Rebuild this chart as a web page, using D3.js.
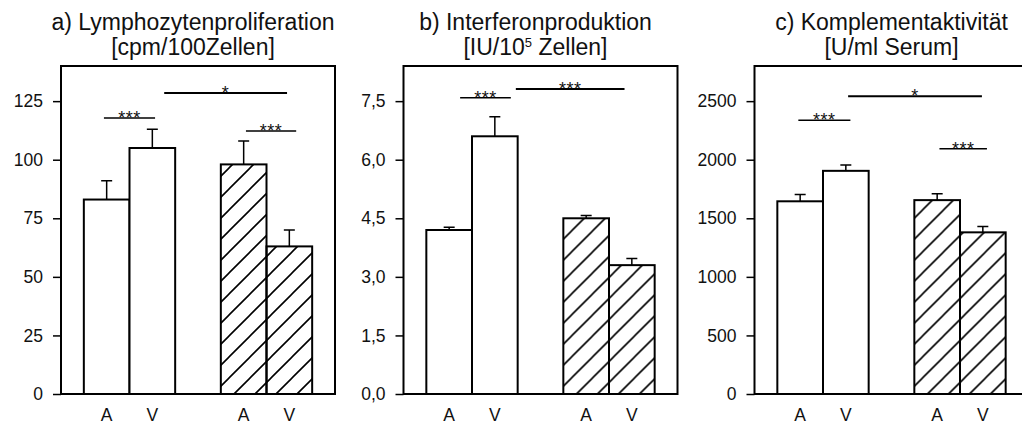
<!DOCTYPE html>
<html>
<head>
<meta charset="utf-8">
<script src="https://cdn.jsdelivr.net/npm/d3@7"></script>
<style>
  body { margin: 0; background: #fff; }
  svg { display: block; font-family: "Liberation Sans", Arial, sans-serif; }
  .axis text { font-size: 17.5px; fill: #111; }
  .axis path { display: none; }
  .axis line { stroke: #000; stroke-width: 1.5px; }
</style>
</head>
<body>
<div id="chart"></div>
<script>
// x categories (group A/V, left pair open bars, right pair hatched)
var barLabels = ["A", "V", "A", "V"];
var barPos = [1, 2, 4, 5];
var barHatched = [false, false, true, true];

// a) Lymphozytenproliferation
var lymphoMean = [83, 105, 98, 63];
var lymphoErr = [8, 8, 10, 7];
var lymphoTicks = [0, 25, 50, 75, 100, 125];
var lymphoSig = [
    { x1: 0.94, x2: 2.06, y: 117.8, label: "***", kind: "within" },
    { x1: 2.26, x2: 4.95, y: 128.5, label: "*", kind: "between" },
    { x1: 4.05, x2: 5.15, y: 112.3, label: "***", kind: "within" }
];

// b) Interferonproduktion
var ifnMean = [4.2, 6.6, 4.5, 3.3];
var ifnErr = [0.07, 0.5, 0.07, 0.17];
var ifnTicks = [0, 1.5, 3, 4.5, 6, 7.5];
var ifnSig = [
    { x1: 1.24, x2: 2.35, y: 7.59, label: "***", kind: "within" },
    { x1: 2.46, x2: 4.84, y: 7.81, label: "***", kind: "between" }
];

// c) Komplementaktivität
var complMean = [1645, 1905, 1655, 1380];
var complErr = [58, 50, 55, 50];
var complTicks = [0, 500, 1000, 1500, 2000, 2500];
var complSig = [
    { x1: 0.96, x2: 2.10, y: 2337, label: "***", kind: "within" },
    { x1: 2.05, x2: 4.98, y: 2542, label: "*", kind: "between" },
    { x1: 4.05, x2: 5.09, y: 2094, label: "***", kind: "within" }
];

var width = 1022, height = 426;
var frameW = 274, frameTop = 66, frameBottom = 394;

var commaFmt = d3.formatLocale({ decimal: ",", thousands: ".", grouping: [3], currency: ["", ""] });

var panels = [
    { left: 61, titleShift: -5, line1: "a) Lymphozytenproliferation", line2: ["[cpm/100Zellen]"],
      max: 140, mean: lymphoMean, err: lymphoErr, ticks: lymphoTicks, sig: lymphoSig, fmt: d3.format("d") },
    { left: 403.5, titleShift: -5, line1: "b) Interferonproduktion", line2: ["[IU/10", "5", " Zellen]"],
      max: 8.4, mean: ifnMean, err: ifnErr, ticks: ifnTicks, sig: ifnSig, fmt: commaFmt.format(".1f") },
    { left: 754.5, titleShift: 0, line1: "c) Komplementaktivität", line2: ["[U/ml Serum]"],
      max: 2800, mean: complMean, err: complErr, ticks: complTicks, sig: complSig, fmt: d3.format("d") }
];

var svg = d3.select("#chart").append("svg")
    .attr("width", width)
    .attr("height", height);

var defs = svg.append("defs");
var hatch = defs.append("pattern")
    .attr("id", "hatch")
    .attr("patternUnits", "userSpaceOnUse")
    .attr("width", 21)
    .attr("height", 21);
hatch.append("path")
    .attr("d", "M0,21 L21,0 M-5,5 L5,-5 M16,26 L26,16")
    .attr("stroke", "#000")
    .attr("stroke-width", 1.6);

var x = d3.scaleLinear().domain([0, 6]).range([0, frameW]);
var barW = x(1) - x(0);

panels.forEach(function(p) {
    var y = d3.scaleLinear().domain([0, p.max]).range([frameBottom, frameTop]);
    var g = svg.append("g").attr("transform", "translate(" + p.left + ",0)");

    // title
    var cx = frameW / 2 + p.titleShift;
    g.append("text")
        .attr("x", cx).attr("y", 30)
        .attr("text-anchor", "middle")
        .style("font-size", "23px").style("fill", "#111")
        .text(p.line1);
    var t2 = g.append("text")
        .attr("x", cx).attr("y", 55)
        .attr("text-anchor", "middle")
        .style("font-size", "23px").style("fill", "#111");
    if (p.line2.length == 1) {
        t2.text(p.line2[0]);
    } else {
        t2.append("tspan").text(p.line2[0]);
        t2.append("tspan").attr("dy", -8).style("font-size", "13px").text(p.line2[1]);
        t2.append("tspan").attr("dy", 8).text(p.line2[2]);
    }

    // y axis
    g.append("g")
        .attr("class", "axis")
        .call(d3.axisLeft(y).tickValues(p.ticks).tickSize(8).tickPadding(10).tickFormat(p.fmt));

    // bars
    var bars = p.mean.map(function(m, i) {
        return { pos: barPos[i], mean: m, err: p.err[i], hatched: barHatched[i], label: barLabels[i] };
    });

    g.selectAll(".bar").data(bars).enter().append("rect")
        .attr("class", "bar")
        .attr("x", function(d) { return x(d.pos) - barW / 2; })
        .attr("y", function(d) { return y(d.mean); })
        .attr("width", barW)
        .attr("height", function(d) { return y(0) - y(d.mean); })
        .attr("fill", function(d) { return d.hatched ? "url(#hatch)" : "#fff"; })
        .attr("stroke", "#000")
        .attr("stroke-width", 2);

    // error bars
    g.selectAll(".err").data(bars).enter().append("path")
        .attr("class", "err")
        .attr("d", function(d) {
            var xc = x(d.pos), y0 = y(d.mean), y1 = y(d.mean + d.err);
            return "M" + xc + "," + y0 + "V" + y1 + "M" + (xc - 5.5) + "," + y1 + "H" + (xc + 5.5);
        })
        .attr("fill", "none")
        .attr("stroke", "#000")
        .attr("stroke-width", 1.5);

    // frame
    g.append("rect")
        .attr("x", 0).attr("y", frameTop)
        .attr("width", frameW).attr("height", frameBottom - frameTop)
        .attr("fill", "none")
        .attr("stroke", "#000")
        .attr("stroke-width", 2);

    // x labels
    g.selectAll(".xl").data(bars).enter().append("text")
        .attr("class", "xl")
        .attr("x", function(d) { return x(d.pos); })
        .attr("y", 421)
        .attr("text-anchor", "middle")
        .style("font-size", "17.5px").style("fill", "#111")
        .text(function(d) { return d.label; });

    // significance markers
    g.selectAll(".sig").data(p.sig).enter().append("line")
        .attr("class", "sig")
        .attr("x1", function(d) { return x(d.x1); })
        .attr("x2", function(d) { return x(d.x2); })
        .attr("y1", function(d) { return y(d.y); })
        .attr("y2", function(d) { return y(d.y); })
        .attr("stroke", "#000")
        .attr("stroke-width", function(d) { return d.kind == "between" ? 2 : 1.5; });

    g.selectAll(".sigl").data(p.sig).enter().append("text")
        .attr("class", "sigl")
        .attr("x", function(d) { return x((d.x1 + d.x2) / 2); })
        .attr("y", function(d) { return y(d.y) + 6; })
        .attr("text-anchor", "middle")
        .style("font-size", "18px").style("letter-spacing", "0.5px").style("fill", "#111")
        .text(function(d) { return d.label; });
});
</script>
</body>
</html>
